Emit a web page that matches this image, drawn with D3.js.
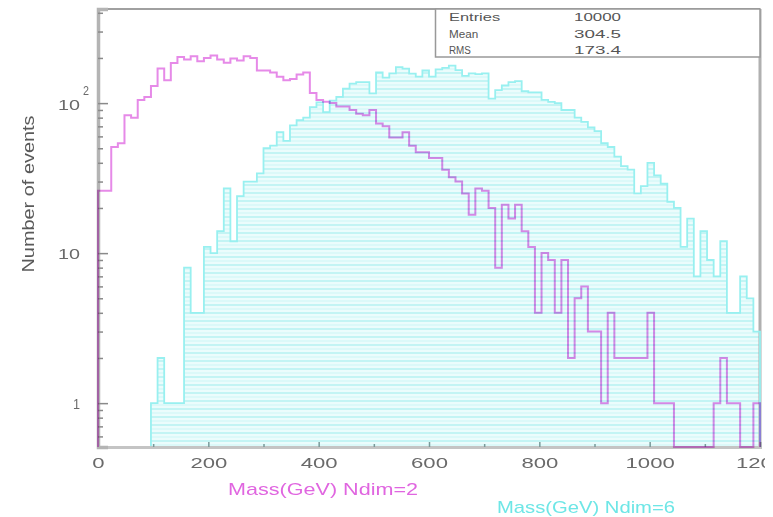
<!DOCTYPE html>
<html>
<head>
<meta charset="utf-8">
<script src="https://cdn.jsdelivr.net/npm/d3@7"></script>
<style>
  body { margin: 0; background: #fff; }
  svg text { font-family: "Liberation Sans", Arial, sans-serif; }
</style>
</head>
<body>
<svg id="chart" width="765" height="517"></svg>
<script>
// mass histograms, 100 bins of 12 GeV from 0 to 1200
const binWidth = 12;
const ndim2Counts = [
  26, 26, 51, 54, 83, 80, 105, 110, 130, 170,
  142, 185, 203, 195, 205, 190, 200, 208, 195, 186,
  198, 192, 205, 200, 165, 165, 160, 150, 142, 145,
  155, 160, 117, 105, 102, 100, 95, 95, 90, 85,
  83, 90, 73, 70, 59, 59, 64, 52, 47, 47,
  43, 43, 36, 32, 30, 25, 18, 27, 26, 20,
  8, 21, 17, 21, 14, 11, 4, 10, 9, 4,
  9, 2, 5, 6, 3, 3, 1, 4, 2, 2,
  2, 2, 2, 4, 1, 1, 1, 0, 0, 0,
  0, 0, 0, 1, 2, 1, 1, 0, 0, 1
];
const ndim6Counts = [
  0, 0, 0, 0, 0, 0, 0, 0, 1, 2,
  1, 1, 1, 8, 4, 4, 11, 10, 14, 27,
  12, 24, 30, 30, 34, 50, 52, 64, 56, 71,
  77, 80, 94, 101, 87, 104, 110, 125, 135, 138,
  138, 116, 160, 148, 158, 174, 170, 157, 150, 165,
  150, 168, 172, 178, 166, 152, 158, 156, 158, 107,
  122, 131, 138, 140, 120, 118, 118, 105, 102, 100,
  90, 90, 80, 75, 69, 65, 54, 51, 44, 38,
  36, 25, 28, 40, 33, 29, 22, 20, 11, 17,
  7, 14, 9, 7, 12, 4, 4, 7, 5, 3
];
const xTicks = [0, 200, 400, 600, 800, 1000, 1200];
const xMinor = [100, 300, 500, 700, 900, 1100];
const yMajor = [1, 10, 100];
const yMinor = [0.6, 0.7, 0.8, 0.9, 2, 3, 4, 5, 6, 7, 8, 9, 20, 30, 40, 50, 60, 70, 80, 90, 200, 300, 400];
const statNames = ["Entries", "Mean", "RMS"];
const statValues = ["10000", "304.5", "173.4"];

const svg = d3.select("#chart");
const plotLeft = 98, plotRight = 760, plotTop = 9, plotBottom = 447;

const x = d3.scaleLinear().domain([0, 1200]).range([plotLeft, plotRight]);
const y = d3.scaleLog().domain([0.51, 424]).range([plotBottom, plotTop]);
const yv = (c) => (c > 0 ? y(c) : plotBottom);

const toPoints = (counts) => {
  const pts = [[0, 0]];
  counts.forEach((c, i) => pts.push([i * binWidth, c]));
  pts.push([counts.length * binWidth, counts[counts.length - 1]]);
  pts.push([counts.length * binWidth, 0]);
  return pts;
};

// hatch fill
const defs = svg.append("defs");
const pat = defs.append("pattern")
  .attr("id", "hatch")
  .attr("patternUnits", "userSpaceOnUse")
  .attr("width", 8).attr("height", 8);
pat.append("rect").attr("width", 8).attr("height", 8).attr("fill", "#ebfcfc");
pat.append("line").attr("x1", 0).attr("x2", 8).attr("y1", 1).attr("y2", 1)
  .attr("stroke", "#b2f1f1").attr("stroke-width", 1.4);
pat.append("line").attr("x1", 0).attr("x2", 8).attr("y1", 5).attr("y2", 5)
  .attr("stroke", "#cef7f7").attr("stroke-width", 1);

const area = d3.area()
  .x((d) => x(d[0]))
  .y0(plotBottom)
  .y1((d) => yv(d[1]))
  .curve(d3.curveStepAfter);
const line = d3.line()
  .x((d) => x(d[0]))
  .y((d) => yv(d[1]))
  .curve(d3.curveStepAfter);

const pts6 = toPoints(ndim6Counts);
svg.append("path").attr("d", area(pts6)).attr("fill", "url(#hatch)");

// frame
svg.append("line").attr("x1", plotLeft).attr("x2", plotRight).attr("y1", plotTop).attr("y2", plotTop)
  .attr("stroke", "#a0a0a0").attr("stroke-width", 2);
svg.append("line").attr("x1", plotRight).attr("x2", plotRight).attr("y1", plotTop).attr("y2", plotBottom)
  .attr("stroke", "#b0b0b0").attr("stroke-width", 3);

svg.append("path").attr("d", line(pts6))
  .attr("fill", "none").attr("stroke", "#98f0f0").attr("stroke-width", 1.8);

// x axis
const xAxis = svg.append("g").attr("transform", `translate(0,${plotBottom})`);
xAxis.call(d3.axisBottom(x).tickValues(xTicks).tickSize(-5).tickPadding(10).tickFormat(d3.format("d")));
xAxis.append("g").call(d3.axisBottom(x).tickValues(xMinor).tickSize(-3).tickFormat(""))
  .select(".domain").remove();
xAxis.selectAll(".domain").attr("stroke", "#c4c4c4").attr("stroke-width", 3);
xAxis.selectAll(".tick line").attr("stroke", "#7a9a9a").attr("stroke-width", 1.5);
xAxis.selectAll(".tick text")
  .attr("fill", "#6a6a6a").attr("font-size", 15)
  .attr("textLength", function () { return this.textContent.length * 12.3; })
  .attr("lengthAdjust", "spacingAndGlyphs");

// y axis, ticks pointing inward
const yAxis = svg.append("g").attr("transform", `translate(${plotLeft},0)`);
yAxis.call(d3.axisRight(y).tickValues(yMajor).tickSize(10).tickFormat(""));
yAxis.append("g").call(d3.axisRight(y).tickValues(yMinor).tickSize(5).tickFormat(""))
  .select(".domain").remove();
yAxis.selectAll(".domain").attr("stroke", "#b4b4b4").attr("stroke-width", 3.5);
yAxis.selectAll(".tick line").attr("stroke", "#8a8a8a").attr("stroke-width", 1.5);

const yLab = svg.append("g").attr("fill", "#6a6a6a").attr("font-size", 15);
yLab.append("text").attr("x", 80).attr("y", y(1) + 6).attr("text-anchor", "end")
  .attr("textLength", 7).attr("lengthAdjust", "spacingAndGlyphs").text("1");
yLab.append("text").attr("x", 80).attr("y", y(10) + 6).attr("text-anchor", "end")
  .attr("textLength", 22).attr("lengthAdjust", "spacingAndGlyphs").text("10");
yLab.append("text").attr("x", 80).attr("y", y(100) + 7).attr("text-anchor", "end")
  .attr("textLength", 22).attr("lengthAdjust", "spacingAndGlyphs").text("10");
yLab.append("text").attr("x", 83).attr("y", y(100) - 8).attr("font-size", 12)
  .attr("textLength", 6).attr("lengthAdjust", "spacingAndGlyphs").text("2");

// Ndim=2 outline on top
svg.append("path").attr("d", line(toPoints(ndim2Counts)))
  .attr("fill", "none").attr("stroke", "#e68ae8").attr("stroke-width", 2)
  .style("mix-blend-mode", "multiply");

// stats box
const box = svg.append("g");
box.append("rect").attr("x", 435.5).attr("y", plotTop).attr("width", plotRight - 435.5).attr("height", 48)
  .attr("fill", "#fff").attr("stroke", "#999").attr("stroke-width", 1.5);
statNames.forEach((n, i) => {
  box.append("text").attr("x", 449).attr("y", 21 + i * 16.5)
    .attr("font-size", 10).attr("fill", "#555")
    .attr("textLength", n.length * 7.3).attr("lengthAdjust", "spacingAndGlyphs").text(n);
  box.append("text").attr("x", 621).attr("y", 21 + i * 16.5).attr("text-anchor", "end")
    .attr("font-size", 10).attr("fill", "#555")
    .attr("textLength", statValues[i].length * 9.4).attr("lengthAdjust", "spacingAndGlyphs")
    .text(statValues[i]);
});

// titles
svg.append("text").attr("transform", "translate(34,194) rotate(-90)")
  .attr("text-anchor", "middle").attr("font-size", 16).attr("fill", "#5a5a5a")
  .attr("textLength", 157).attr("lengthAdjust", "spacingAndGlyphs").text("Number of events");
svg.append("text").attr("x", 228).attr("y", 495).attr("font-size", 17).attr("fill", "#e066e0")
  .attr("textLength", 190).attr("lengthAdjust", "spacingAndGlyphs").text("Mass(GeV) Ndim=2");
svg.append("text").attr("x", 497).attr("y", 513).attr("font-size", 17).attr("fill", "#6ee6e6")
  .attr("textLength", 178).attr("lengthAdjust", "spacingAndGlyphs").text("Mass(GeV) Ndim=6");
</script>
</body>
</html>
